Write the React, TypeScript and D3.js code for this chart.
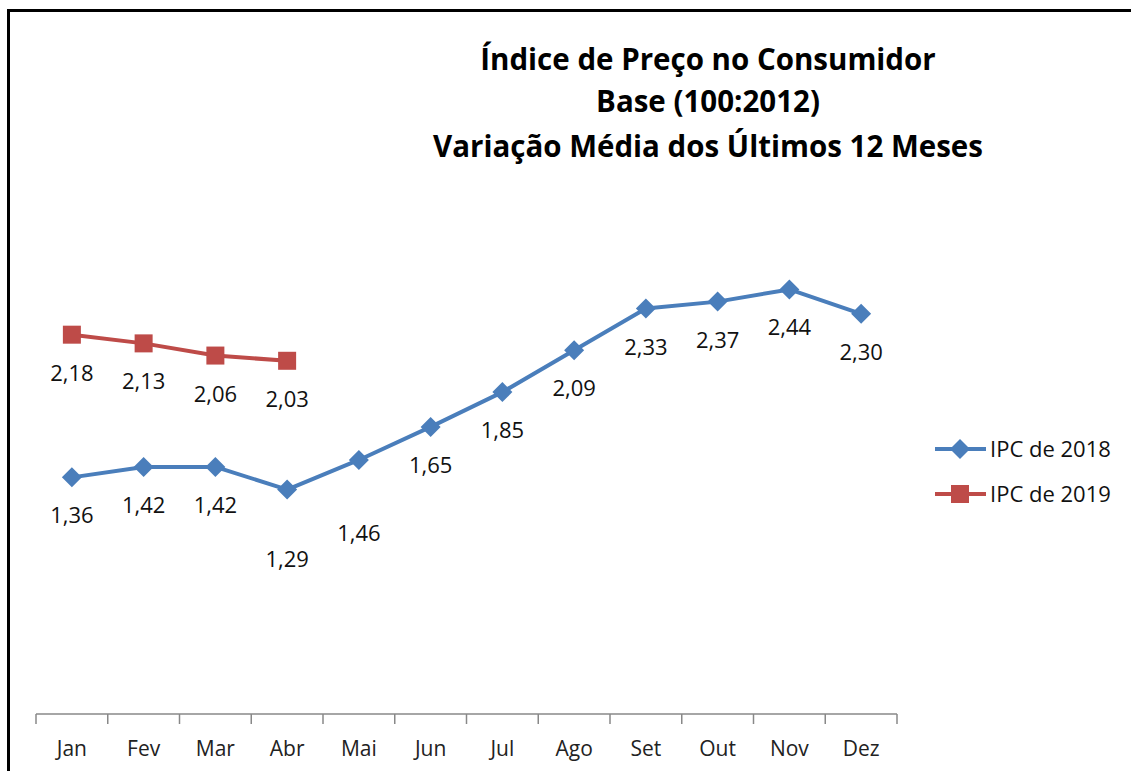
import React from 'react';
import * as d3 from 'd3';

const months = ['Jan', 'Fev', 'Mar', 'Abr', 'Mai', 'Jun', 'Jul', 'Ago', 'Set', 'Out', 'Nov', 'Dez'];
const ipc2018 = [1.36, 1.42, 1.42, 1.29, 1.46, 1.65, 1.85, 2.09, 2.33, 2.37, 2.44, 2.3];
const ipc2019 = [2.18, 2.13, 2.06, 2.03];
const titleLines = ['Índice de Preço no Consumidor', 'Base (100:2012)', 'Variação Média dos Últimos 12 Meses'];

const BLUE = '#4A7EBB';
const RED = '#BE4B48';
const FONT = '"Open Sans", "Noto Sans", sans-serif';

const fmt = (v: number) => v.toFixed(2).replace('.', ',');

const App = () => {
  const width = 1131;
  const height = 771;
  const margin = { left: 36, right: 234, top: 192, bottom: 57 };

  // Set up scales

  const x = d3.scaleBand().domain(months).range([margin.left, width - margin.right]);
  const y = d3.scaleLinear().domain([0, 3]).range([height - margin.bottom, margin.top]);
  const cx = (m: string) => (x(m) as number) + x.bandwidth() / 2;

  const line = d3
    .line<number>()
    .x((_, i) => cx(months[i]))
    .y(d => y(d));

  const diamond = (px: number, py: number, r: number) =>
    `M${px},${py - r}L${px + r},${py}L${px},${py + r}L${px - r},${py}Z`;

  // labels pushed further down where they would hit the line
  const extraDrop: Record<string, number> = { Abr: 31, Mai: 35 };

  const axisY = y(0);
  const ticks = [...months.map(m => x(m) as number), width - margin.right];

  return (
    <svg width={width} height={height} style={{ display: 'block', position: 'absolute', left: 0, top: 0 }}>
      <rect x={0} y={0} width={width} height={height} fill="#fff" />
      <rect x={8.5} y={10.5} width={1130} height={800} fill="none" stroke="#000" strokeWidth={3} />

      {/* title */}
      {titleLines.map((t, i) => (
        <text
          key={t}
          x={708}
          y={[70, 112, 157][i]}
          textAnchor="middle"
          fontFamily={FONT}
          fontWeight="bold"
          fontSize={29.5}
          fill="#000"
        >
          {t}
        </text>
      ))}

      {/* x axis */}
      <line x1={margin.left} x2={width - margin.right} y1={axisY} y2={axisY} stroke="#888" strokeWidth={1.5} />
      {ticks.map((t, i) => (
        <line key={i} x1={t} x2={t} y1={axisY} y2={axisY + 10} stroke="#888" strokeWidth={1.5} />
      ))}
      {months.map(m => (
        <text key={m} x={cx(m)} y={axisY + 42} textAnchor="middle" fontFamily={FONT} fontSize={21} fill="#222">
          {m}
        </text>
      ))}

      {/* 2018 series */}
      <path d={line(ipc2018) ?? ''} fill="none" stroke={BLUE} strokeWidth={4} strokeLinejoin="round" />
      {ipc2018.map((v, i) => (
        <path key={i} d={diamond(cx(months[i]), y(v), 10)} fill={BLUE} />
      ))}
      {ipc2018.map((v, i) => (
        <text
          key={i}
          x={cx(months[i])}
          y={y(v) + 46 + (extraDrop[months[i]] ?? 0)}
          textAnchor="middle"
          fontFamily={FONT}
          fontSize={22}
          fill="#111"
        >
          {fmt(v)}
        </text>
      ))}

      {/* 2019 series */}
      <path d={line(ipc2019) ?? ''} fill="none" stroke={RED} strokeWidth={4} strokeLinejoin="round" />
      {ipc2019.map((v, i) => (
        <rect key={i} x={cx(months[i]) - 9} y={y(v) - 9} width={18} height={18} fill={RED} />
      ))}
      {ipc2019.map((v, i) => (
        <text key={i} x={cx(months[i])} y={y(v) + 46} textAnchor="middle" fontFamily={FONT} fontSize={22} fill="#111">
          {fmt(v)}
        </text>
      ))}

      {/* legend */}
      <line x1={935} x2={986} y1={449} y2={449} stroke={BLUE} strokeWidth={4} />
      <path d={diamond(960, 449, 10)} fill={BLUE} />
      <text x={990} y={457} fontFamily={FONT} fontSize={22} fill="#111">IPC de 2018</text>
      <line x1={935} x2={986} y1={494} y2={494} stroke={RED} strokeWidth={4} />
      <rect x={951} y={485} width={18} height={18} fill={RED} />
      <text x={990} y={502} fontFamily={FONT} fontSize={22} fill="#111">IPC de 2019</text>
    </svg>
  );
};

export default App;
